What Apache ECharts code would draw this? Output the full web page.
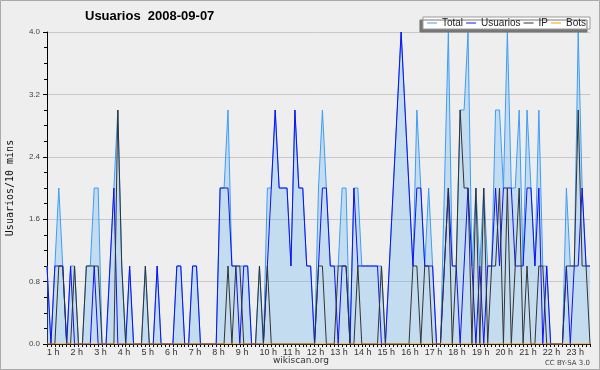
<!DOCTYPE html>
<html>
<head>
<meta charset="utf-8">
<script src="https://cdn.jsdelivr.net/npm/echarts@6/dist/echarts.min.js"></script>
<style>
html, body { margin: 0; padding: 0; background: #eeeeef; }
#chart { width: 600px; height: 370px; }
</style>
</head>
<body>
<div id="chart"></div>
<script>
// Usuarios por franja de 10 minutos, 2008-09-07
const hourLabels = ['1 h', '2 h', '3 h', '4 h', '5 h', '6 h', '7 h', '8 h', '9 h', '10 h', '11 h', '12 h',
    '13 h', '14 h', '15 h', '16 h', '17 h', '18 h', '19 h', '20 h', '21 h', '22 h', '23 h'];
const yTicks = [0, 0.8, 1.6, 2.4, 3.2, 4.0];

const total = [
    1, 0, 1, 2, 1, 0, 1, 1, 0, 0,
    1, 1, 2, 2, 0, 0, 1, 2, 3, 1,
    0, 1, 0, 0, 0, 1, 0, 0, 1, 0,
    0, 0, 0, 1, 1, 0, 0, 1, 1, 0,
    0, 0, 0, 0, 2, 2, 3, 1, 1, 1,
    1, 1, 0, 0, 1, 0, 2, 2, 3, 2,
    2, 2, 1, 3, 2, 2, 1, 1, 0, 2,
    3, 2, 1, 1, 1, 2, 2, 0, 2, 2,
    1, 1, 1, 1, 1, 1, 0, 1, 2, 3,
    4, 3, 2, 1, 3, 2, 1, 2, 1, 0,
    0, 2, 4, 1, 1, 3, 3, 4, 1, 2,
    1, 2, 1, 1, 3, 3, 2, 4, 2, 2,
    3, 1, 3, 2, 1, 3, 1, 1, 0, 0,
    0, 0, 2, 1, 1, 4, 2, 1, 1
];
const usuarios = [
    1, 0, 1, 1, 1, 0, 1, 0, 0, 0,
    0, 0, 1, 0, 0, 0, 1, 2, 0, 0,
    0, 1, 0, 0, 0, 0, 0, 0, 1, 0,
    0, 0, 0, 1, 1, 0, 0, 1, 1, 0,
    0, 0, 0, 0, 2, 2, 2, 1, 1, 0,
    1, 1, 0, 0, 0, 0, 1, 2, 3, 2,
    2, 2, 1, 3, 2, 2, 1, 1, 0, 1,
    2, 2, 1, 1, 0, 1, 1, 0, 2, 1,
    1, 1, 1, 1, 1, 0, 0, 1, 2, 3,
    4, 3, 2, 1, 2, 2, 1, 1, 1, 0,
    0, 1, 2, 1, 1, 0, 1, 2, 1, 0,
    1, 0, 1, 1, 2, 1, 2, 2, 2, 1,
    1, 1, 2, 2, 1, 2, 0, 1, 0, 0,
    0, 0, 1, 0, 1, 1, 2, 1, 1
];
const ip = [
    0, 0, 0, 1, 1, 0, 0, 1, 0, 0,
    1, 1, 1, 1, 0, 0, 0, 0, 3, 1,
    0, 0, 0, 0, 0, 1, 0, 0, 0, 0,
    0, 0, 0, 0, 0, 0, 0, 0, 0, 0,
    0, 0, 0, 0, 0, 0, 1, 0, 1, 1,
    0, 0, 0, 0, 1, 0, 1, 0, 0, 0,
    0, 0, 0, 0, 0, 0, 0, 0, 0, 1,
    1, 0, 0, 0, 1, 1, 1, 0, 0, 1,
    0, 0, 0, 0, 0, 1, 0, 0, 0, 0,
    0, 0, 0, 1, 1, 0, 1, 1, 0, 0,
    0, 1, 2, 0, 1, 3, 2, 2, 0, 2,
    0, 2, 0, 1, 1, 2, 0, 2, 0, 1,
    2, 0, 1, 0, 0, 1, 1, 0, 0, 0,
    0, 0, 1, 1, 1, 3, 1, 1, 0
];
const bots = [
    0, 0, 0, 0, 0, 0, 0, 0, 0, 0,
    0, 0, 0, 0, 0, 0, 0, 0, 0, 0,
    0, 0, 0, 0, 0, 0, 0, 0, 0, 0,
    0, 0, 0, 0, 0, 0, 0, 0, 0, 0,
    0, 0, 0, 0, 0, 0, 0, 0, 0, 0,
    0, 0, 0, 0, 0, 0, 0, 0, 0, 0,
    0, 0, 0, 0, 0, 0, 0, 0, 0, 0,
    0, 0, 0, 0, 0, 0, 0, 0, 0, 0,
    0, 0, 0, 0, 0, 0, 0, 0, 0, 0,
    0, 0, 0, 0, 0, 0, 0, 0, 0, 0,
    0, 0, 0, 0, 0, 0, 0, 0, 0, 0,
    0, 0, 0, 0, 0, 0, 0, 0, 0, 0,
    0, 0, 0, 0, 0, 0, 0, 0, 0, 0,
    0, 0, 0, 0, 0, 0, 0, 0, 0
];

// una etiqueta cada 6 franjas (1 hora)
const slots = total.map((v, i) => (i % 6 === 0 && hourLabels[i / 6]) ? hourLabels[i / 6] : '');

const chart = echarts.init(document.getElementById('chart'));

function lineSeries(name, data, color, extra) {
    return Object.assign({
        name: name,
        type: 'line',
        data: data,
        symbol: 'none',
        itemStyle: { color: color },
        lineStyle: { color: color, width: 1 },
        emphasis: { disabled: true }
    }, extra || {});
}

const option = {
    animation: false,
    backgroundColor: '#eeeeef',
    title: {
        text: 'Usuarios  2008-09-07',
        left: 85,
        top: 10,
        padding: 0,
        textStyle: { fontFamily: 'Liberation Sans', fontSize: 13, fontWeight: 'bold', color: '#000' }
    },
    legend: {
        right: 10,
        top: 17,
        padding: [1, 4, 1, 4],
        itemGap: 3,
        itemWidth: 10,
        itemHeight: 1,
        icon: 'rect',
        backgroundColor: '#fff',
        borderColor: '#999',
        borderWidth: 1,
        shadowColor: '#777',
        shadowBlur: 0,
        shadowOffsetX: -3,
        shadowOffsetY: 3,
        textStyle: { fontFamily: 'Liberation Sans', fontSize: 10, color: '#222' },
        data: ['Total', 'Usuarios', 'IP', 'Bots']
    },
    grid: { left: 47, right: 10, top: 32, bottom: 26 },
    xAxis: {
        type: 'category',
        data: slots,
        boundaryGap: false,
        axisLine: { lineStyle: { color: '#000', width: 1 } },
        axisTick: { interval: 0, length: 3, lineStyle: { color: '#000' } },
        axisLabel: {
            interval: 0,
            align: 'left',
            margin: 4,
            fontFamily: 'Liberation Sans',
            fontSize: 9,
            color: '#333'
        },
        splitLine: { show: false }
    },
    yAxis: {
        type: 'value',
        min: yTicks[0],
        max: yTicks[yTicks.length - 1],
        interval: 0.8,
        axisLine: { show: true, lineStyle: { color: '#000', width: 1 } },
        axisTick: { show: true, length: 4, lineStyle: { color: '#000' } },
        minorTick: { show: true, splitNumber: 4, length: 3, lineStyle: { color: '#000' } },
        axisLabel: {
            margin: 7,
            fontFamily: 'Liberation Sans',
            fontSize: 8,
            color: '#444',
            formatter: v => v.toFixed(1)
        },
        splitLine: { lineStyle: { color: '#c8c8c8', width: 1 } }
    },
    series: [
        lineSeries('Total', total, '#3d9df5', {
            areaStyle: { color: 'rgb(101,178,242)', opacity: 0.3 }
        }),
        lineSeries('Usuarios', usuarios, '#1010f0'),
        lineSeries('IP', ip, '#333333'),
        lineSeries('Bots', bots, '#ff9900')
    ],
    graphic: [
        {
            type: 'rect',
            silent: true,
            shape: { x: 0.5, y: 0.5, width: 599, height: 369 },
            style: { fill: 'none', stroke: '#aaa', lineWidth: 1 }
        },
        {
            type: 'text',
            x: 10,
            y: 188,
            rotation: Math.PI / 2,
            style: {
                text: 'Usuarios/10 mins',
                font: '10px "DejaVu Sans Mono"',
                fill: '#111',
                align: 'center',
                verticalAlign: 'middle'
            }
        },
        {
            type: 'text',
            x: 301,
            y: 361,
            style: { text: 'wikiscan.org', font: '9px "DejaVu Sans"', fill: '#333', align: 'center', verticalAlign: 'middle' }
        },
        {
            type: 'text',
            x: 590,
            y: 363,
            style: { text: 'CC BY-SA 3.0', font: '7px "DejaVu Sans"', fill: '#444', align: 'right', verticalAlign: 'middle' }
        }
    ]
};

chart.setOption(option);
</script>
</body>
</html>
